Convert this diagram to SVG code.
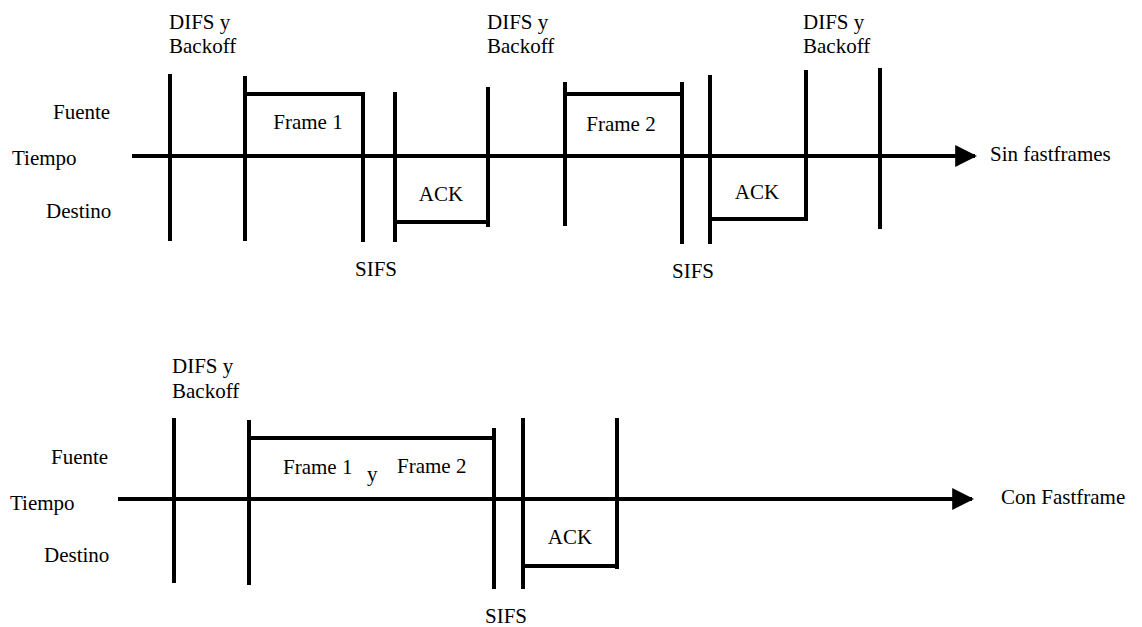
<svg xmlns="http://www.w3.org/2000/svg" width="1142" height="627" viewBox="0 0 1142 627">
<style>
text{font-size:21px;fill:#000}
.ln{stroke:#000;stroke-width:4;fill:none;stroke-linecap:butt}
.ax{stroke:#000;stroke-width:4;fill:none}
</style>
<defs>
<marker id="arr" viewBox="0 0 10 10" refX="9" refY="5" markerWidth="5.5" markerHeight="5.5" markerUnits="strokeWidth" orient="auto">
<path d="M0,0 L10,5 L0,10 z" fill="#000"/>
</marker>
</defs>
<rect width="1142" height="627" fill="#fff"/>
<g font-family="Liberation Serif, Times New Roman, serif">
<g id="connectors">
<line class="ax" x1="132" y1="156" x2="975" y2="156" marker-end="url(#arr)"/>
<line class="ax" x1="118" y1="499" x2="972" y2="499" marker-end="url(#arr)"/>
</g>

<g id="top-labels">
<text x="12" y="165">Tiempo</text>
<text x="53" y="119">Fuente</text>
<text x="46" y="218">Destino</text>
<text x="990" y="161">Sin fastframes</text>
</g>
<g id="top-difs1"><text x="169" y="29">DIFS y</text><text x="169" y="53">Backoff</text><line class="ln" x1="170" y1="74" x2="170" y2="241"/></g>
<g id="top-frame1">
<path class="ln" d="M245,76 V241 M245,94 H363 M363,92 V242"/>
<text x="308" y="129" text-anchor="middle">Frame 1</text>
</g>
<g id="top-ack1">
<path class="ln" d="M395,92 V242 M395,222 H488 M488,87 V227"/>
<text x="441" y="201" text-anchor="middle">ACK</text>
</g>
<g id="top-sifs1"><text x="355" y="276">SIFS</text></g>
<g id="top-difs2"><text x="487" y="29">DIFS y</text><text x="487" y="53">Backoff</text></g>
<g id="top-frame2">
<path class="ln" d="M565,82 V226 M565,94 H682 M682,82 V244"/>
<text x="621" y="131" text-anchor="middle">Frame 2</text>
</g>
<g id="top-ack2">
<path class="ln" d="M710,75 V244 M710,219 H806 M806,70 V221"/>
<text x="757" y="199" text-anchor="middle">ACK</text>
</g>
<g id="top-sifs2"><text x="672" y="278">SIFS</text></g>
<g id="top-difs3"><text x="803" y="29">DIFS y</text><text x="803" y="53">Backoff</text><line class="ln" x1="880" y1="68" x2="880" y2="229"/></g>

<g id="bottom-labels">
<text x="10" y="510">Tiempo</text>
<text x="51" y="464">Fuente</text>
<text x="44" y="562">Destino</text>
<text x="1001" y="504">Con Fastframe</text>
</g>
<g id="bot-difs"><text x="172" y="373">DIFS y</text><text x="172" y="398">Backoff</text><line class="ln" x1="174" y1="418" x2="174" y2="583"/></g>
<g id="bot-frames">
<path class="ln" d="M249,420 V585 M249,438 H494 M494,428 V589"/>
<text x="283" y="474">Frame 1</text>
<text x="367" y="481">y</text>
<text x="397" y="473">Frame 2</text>
</g>
<g id="bot-ack">
<path class="ln" d="M523,418 V589 M523,566 H617 M617,418 V569"/>
<text x="570" y="544" text-anchor="middle">ACK</text>
</g>
<g id="bot-sifs"><text x="485" y="623">SIFS</text></g>
</g>
</svg>
